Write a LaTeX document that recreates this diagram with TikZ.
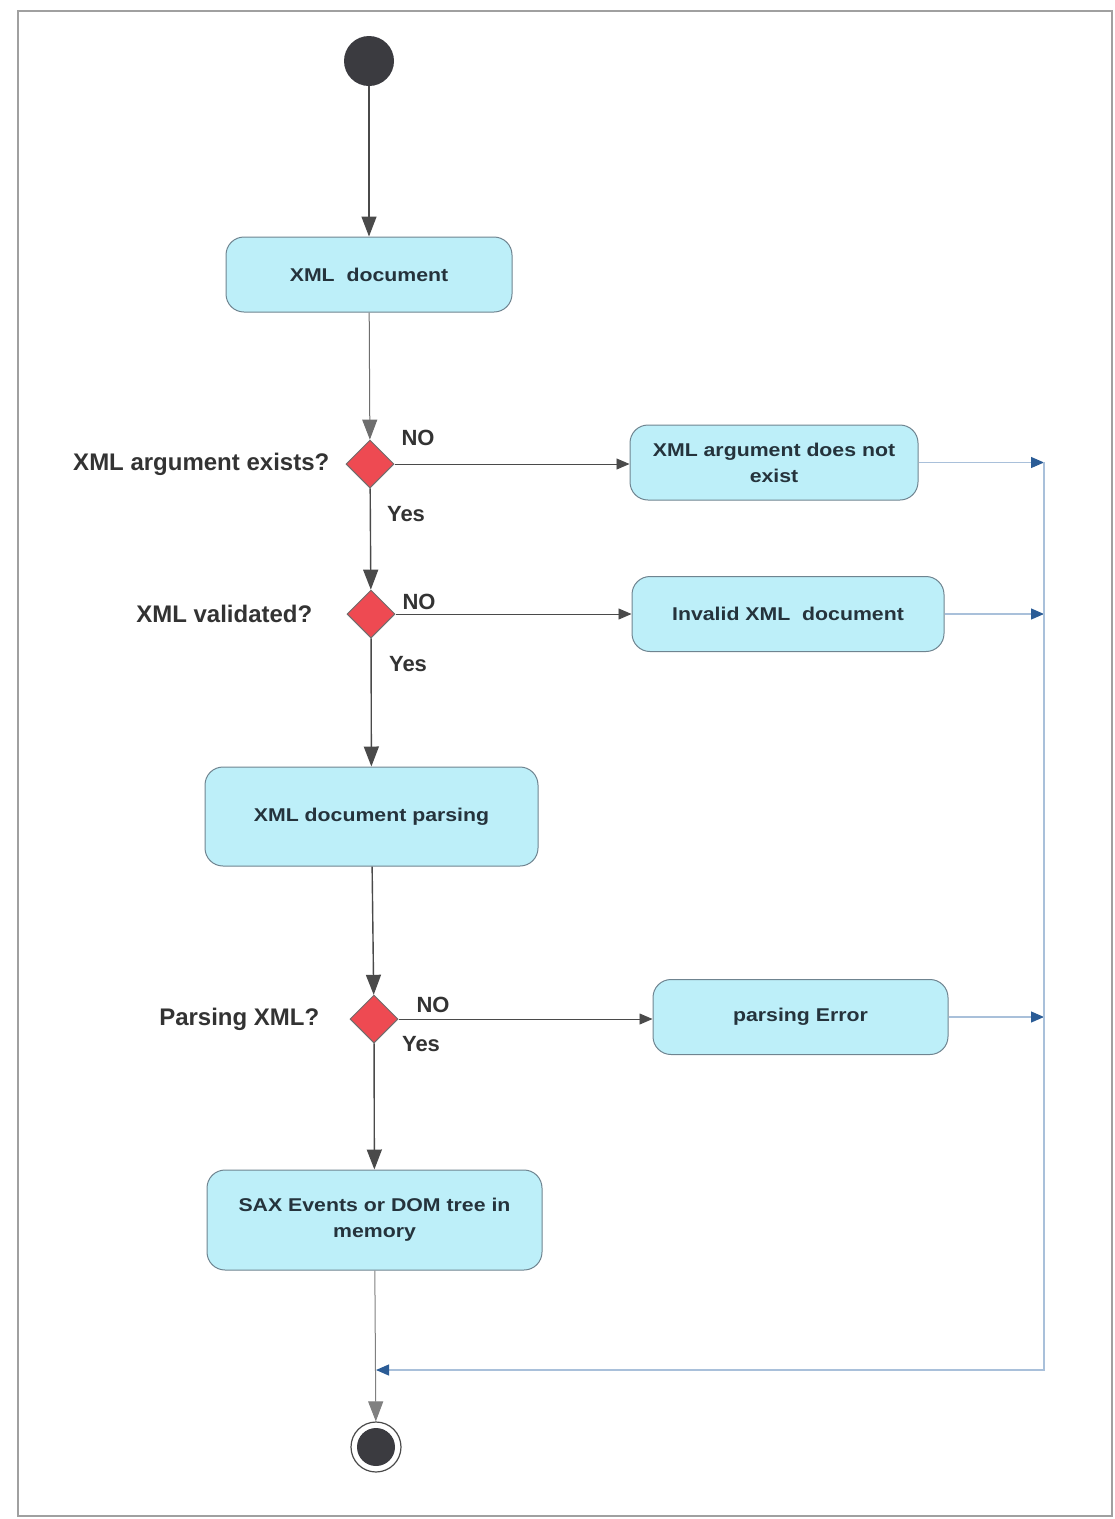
\documentclass[tikz,border=0pt]{standalone}
\usepackage{fontspec}
\setmainfont{Liberation Sans}
\newfontfamily\actfont{Liberation Sans}[FakeStretch=1.15]
\usetikzlibrary{arrows.meta,positioning,shapes.geometric}
\definecolor{actfill}{HTML}{BDEFF9}
\definecolor{actline}{HTML}{6F8490}
\definecolor{acttext}{HTML}{25333C}
\definecolor{decfill}{HTML}{EE4A52}
\definecolor{flowgray}{HTML}{4A4A4A}
\definecolor{railblue}{HTML}{A9C0DA}
\definecolor{tipblue}{HTML}{2B5C96}
\definecolor{dotdark}{HTML}{3B3B40}
\definecolor{framegray}{HTML}{A0A0A0}

\begin{document}
\begin{tikzpicture}[x=1pt, y=-1pt,
  action/.style={rectangle, rounded corners=18pt, draw=actline, fill=actfill,
                 line width=1pt, minimum width=#1, minimum height=75pt,
                 align=center, text=acttext,
                 font=\actfont\bfseries\fontsize{18.5}{26}\selectfont},
  action/.default=288pt,
  decision/.style={diamond, draw=flowgray!80, fill=decfill, line width=1pt,
                   minimum size=48pt, inner sep=0pt},
  question/.style={font=\bfseries\fontsize{24}{28}\selectfont, text=black!80,
                   inner sep=0pt},
  branch/.style={font=\bfseries\fontsize{22}{26}\selectfont, text=black!80,
                 inner sep=0pt},
  flow/.style={draw=flowgray, line width=1.4pt,
               -{Triangle[length=20pt,width=15pt]}},
  noflow/.style={draw=flowgray, line width=0.9pt,
                 -{Triangle[length=13pt,width=11pt]}},
  rail/.style={draw=railblue, line width=1.2pt,
               -{Triangle[length=13pt,width=11pt,color=tipblue]}},
]
\useasboundingbox (0,0) rectangle (1115,1519);

%% ---- page frame ----
\draw[framegray, line width=1.5pt] (18,11) rectangle (1112,1516);

%% ---- initial / final nodes ----
\node[circle, fill=dotdark, minimum size=50pt, inner sep=0pt] (start) at (369,61) {};
\node[circle, draw=flowgray, line width=1.2pt, minimum size=50pt, inner sep=0pt] (fin) at (376,1447) {};
\node[circle, fill=dotdark, minimum size=38pt, inner sep=0pt] at (fin) {};

%% ---- activities ----
\node[action=286pt] (doc) at (369,274.5) {XML\ \ document};
\node[action] (noarg) at (774,462.5) {XML argument does not\\exist};
\node[action=312pt] (invalid) at (788,614) {Invalid XML\ \ document};
\node[action=333pt, minimum height=99pt] (parse) at (371.5,816.5) {XML document parsing};
\node[action=295pt] (perr) at (800.5,1017) {parsing Error};
\node[action=335pt, minimum height=100pt] (tree) at (374.5,1220) {SAX Events or DOM tree in\\memory};

%% ---- decisions ----
\node[decision] (argq) at (370,464) {};
\node[decision] (valq) at (371,614) {};
\node[decision] (parq) at (374,1019) {};

% questions left of the diamonds
\node[question, left=16pt of argq] {XML argument exists?};
\node[question, left=34pt of valq] {XML validated?};
\node[question, left=30pt of parq] {Parsing XML?};

% branch labels
\node[branch] at (418,438) {NO};
\node[branch] at (406,514) {Yes};
\node[branch] at (419,602) {NO};
\node[branch] at (408,664) {Yes};
\node[branch] at (433,1005) {NO};
\node[branch] at (421,1044) {Yes};

%% ---- main flow ----
\draw[flow] (start) -- (doc);
\draw[flow, draw=flowgray!80, line width=1pt] (doc) -- (argq);
\draw[flow] (argq) -- (valq);
\draw[flow] (valq) -- (parse);
\draw[flow] (parse) -- (parq);
\draw[flow] (parq) -- (tree);
\draw[flow, draw=flowgray!70, line width=1pt] (tree) -- (fin);

%% ---- NO branches ----
\draw[noflow] (argq.east) -- (argq.east -| noarg.west);
\draw[noflow] (valq.east) -- (valq.east -| invalid.west);
\draw[noflow] (parq.east) -- (parq.east -| perr.west);

%% ---- error rail back to the end ----
\coordinate (railtop) at (1044,462);
\coordinate (railbot) at (1044,1370);
\draw[rail] (noarg.east) -- (noarg.east -| railtop);
\draw[rail] (invalid.east) -- (invalid.east -| railtop);
\draw[rail] (perr.east) -- (perr.east -| railtop);
\draw[rail] (railtop) -- (railbot) -- (railbot -| fin);

\end{tikzpicture}
\end{document}
